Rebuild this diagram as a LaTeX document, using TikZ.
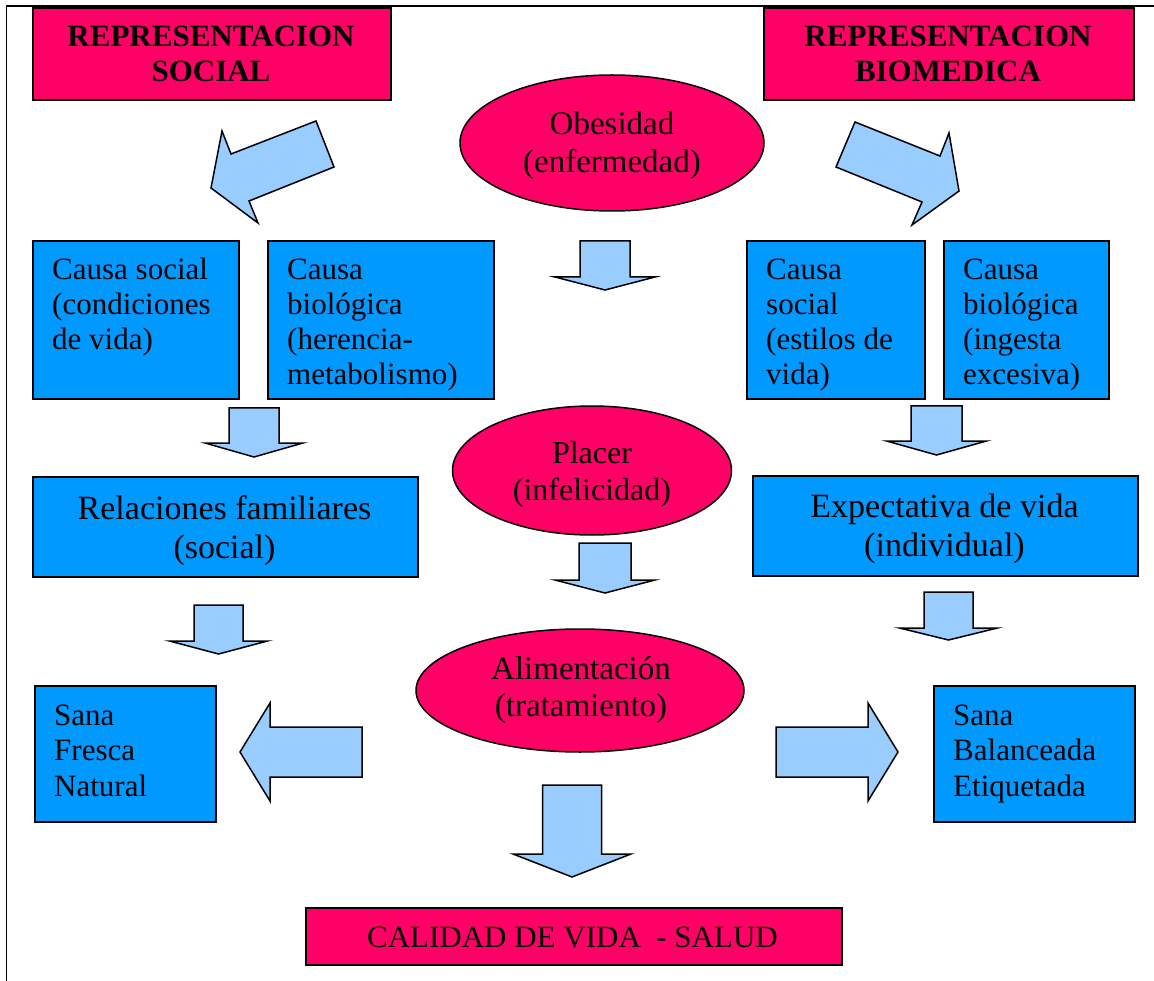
\documentclass[tikz,border=0pt]{standalone}
\usepackage{fontspec}
\setmainfont{Liberation Serif}
\usetikzlibrary{shapes.geometric}
\definecolor{mag}{HTML}{FF0066}
\definecolor{cblue}{HTML}{0099FF}
\definecolor{lblue}{HTML}{99CCFF}
\newcommand{\tlines}[1]{\begin{tabular}[t]{@{}l@{}}#1\end{tabular}}
\newcommand{\tclines}[1]{\begin{tabular}[t]{@{}c@{}}#1\end{tabular}}
\newcommand{\downarr}[6]{\draw[barrow] (#1-#5,#2) -- (#1+#5,#2) -- (#1+#5,#3) -- (#1+#6,#3) -- (#1,#4) -- (#1-#6,#3) -- (#1-#5,#3) -- cycle;}
\begin{document}
\begin{tikzpicture}[x=1pt,y=-1pt,
  magbox/.style={draw=black, line width=2pt, fill=mag, inner sep=0pt, anchor=north west},
  bluebox/.style={draw=black, line width=2pt, fill=cblue, inner sep=0pt, anchor=north west},
  ell/.style={ellipse, draw=black, line width=1.5pt, fill=mag, inner sep=0pt},
  barrow/.style={draw=black, line width=1.5pt, fill=lblue, line join=miter},
  txt/.style={inner sep=0pt, font=\fontsize{31}{35}\selectfont},
  txtb/.style={inner sep=0pt, font=\fontsize{31}{35}\selectfont\bfseries},
  txtl/.style={inner sep=0pt, font=\fontsize{34}{39}\selectfont},
  txte/.style={inner sep=0pt, font=\fontsize{33}{37.5}\selectfont},
  txtp/.style={inner sep=0pt, font=\fontsize{32}{37}\selectfont},
  txts/.style={inner sep=0pt, font=\fontsize{31}{35.5}\selectfont}]
\useasboundingbox (0,0) rectangle (1154,981);
\fill[white] (0,0) rectangle (1154,981);
% frame
\draw[line width=1.8pt] (6.5,981) -- (6.5,6) -- (1154,6);
% title boxes
\node[magbox, minimum width=358pt, minimum height=92pt] (tL) at (32,7) {};
\node[txtb, anchor=base] (tLt) at (211,47) {\tclines{REPRESENTACION\\SOCIAL}};
\node[magbox, minimum width=370pt, minimum height=92pt] (tR) at (763,7) {};
\node[txtb, anchor=base] (tRt) at (948,47) {\tclines{REPRESENTACION\\BIOMEDICA}};
% ellipses
\node[ell, minimum width=304pt, minimum height=136pt] (ob) at (612,143) {};
\node[txte, anchor=base] (obt) at (612,135) {\tclines{Obesidad\\(enfermedad)}};
\node[ell, minimum width=279pt, minimum height=129pt] (pl) at (592,470.5) {};
\node[txtp, anchor=base] (plt) at (592,463) {\tclines{Placer\\(infelicidad)}};
\node[ell, minimum width=328pt, minimum height=123pt] (al) at (580,690.5) {};
\node[txte, anchor=base] (alt) at (581,679) {\tclines{Alimentación\\(tratamiento)}};
% causa boxes
\node[bluebox, minimum width=206pt, minimum height=158pt] (cs1) at (32,240) {};
\node[txt, anchor=base west] (cs1t) at (52,280) {\tlines{Causa social\\(condiciones\\de vida)}};
\node[bluebox, minimum width=226pt, minimum height=158pt] (cb1) at (267,240) {};
\node[txt, anchor=base west] (cb1t) at (287,280) {\tlines{Causa\\biológica\\(herencia-\\metabolismo)}};
\node[bluebox, minimum width=178pt, minimum height=158pt] (cs2) at (746,240) {};
\node[txt, anchor=base west] (cs2t) at (766,280) {\tlines{Causa\\social\\(estilos de\\vida)}};
\node[bluebox, minimum width=165pt, minimum height=158pt] (cb2) at (943,240) {};
\node[txt, anchor=base west] (cb2t) at (963,280) {\tlines{Causa\\biológica\\(ingesta\\excesiva)}};
% middle boxes
\node[bluebox, minimum width=385pt, minimum height=100pt] (rf) at (32,476) {};
\node[txtl, anchor=base] (rft) at (224.5,519) {\tclines{Relaciones familiares\\(social)}};
\node[bluebox, minimum width=385pt, minimum height=100pt] (ev) at (752,475) {};
\node[txtl, anchor=base] (evt) at (944.5,517) {\tclines{Expectativa de vida\\(individual)}};
% sana boxes
\node[bluebox, minimum width=181pt, minimum height=136pt] (sL) at (34,685) {};
\node[txts, anchor=base west] (sLt) at (54,725) {\tlines{Sana\\Fresca\\Natural}};
\node[bluebox, minimum width=201pt, minimum height=136pt] (sR) at (933,685) {};
\node[txts, anchor=base west] (sRt) at (953,725) {\tlines{Sana\\Balanceada\\Etiquetada}};
% bottom box
\node[magbox, minimum width=536pt, minimum height=57pt] (cv) at (305,907) {};
\node[txt, anchor=base] (cvt) at (572.5,947) {CALIDAD DE VIDA \ - SALUD};
% tilted arrows
\draw[barrow] (211,188) -- (222,131) -- (231,154) -- (316,121) -- (334,167) -- (249,201) -- (258,223) -- cycle;
\draw[barrow] (855,122) -- (940,156) -- (949,133) -- (959,191) -- (912,225) -- (922,202) -- (836,167) -- cycle;
% down arrows
\downarr{605}{241}{277}{290}{25}{50}
\downarr{254}{408}{443}{457}{25}{49}
\downarr{936.5}{406}{441}{455}{25.5}{50}
\downarr{605}{543}{580}{593}{26}{50}
\downarr{218.5}{605}{641}{654}{24.5}{49}
\downarr{948.5}{592}{628}{640}{24.5}{49}
\downarr{572}{785}{854}{877}{29.5}{59}
% side arrows
\draw[barrow] (240,752) -- (270,703) -- (270,727) -- (362,727) -- (362,777) -- (270,777) -- (270,801) -- cycle;
\draw[barrow] (776,727) -- (868,727) -- (868,703) -- (898,752) -- (868,801) -- (868,777) -- (776,777) -- cycle;
\end{tikzpicture}
\end{document}
